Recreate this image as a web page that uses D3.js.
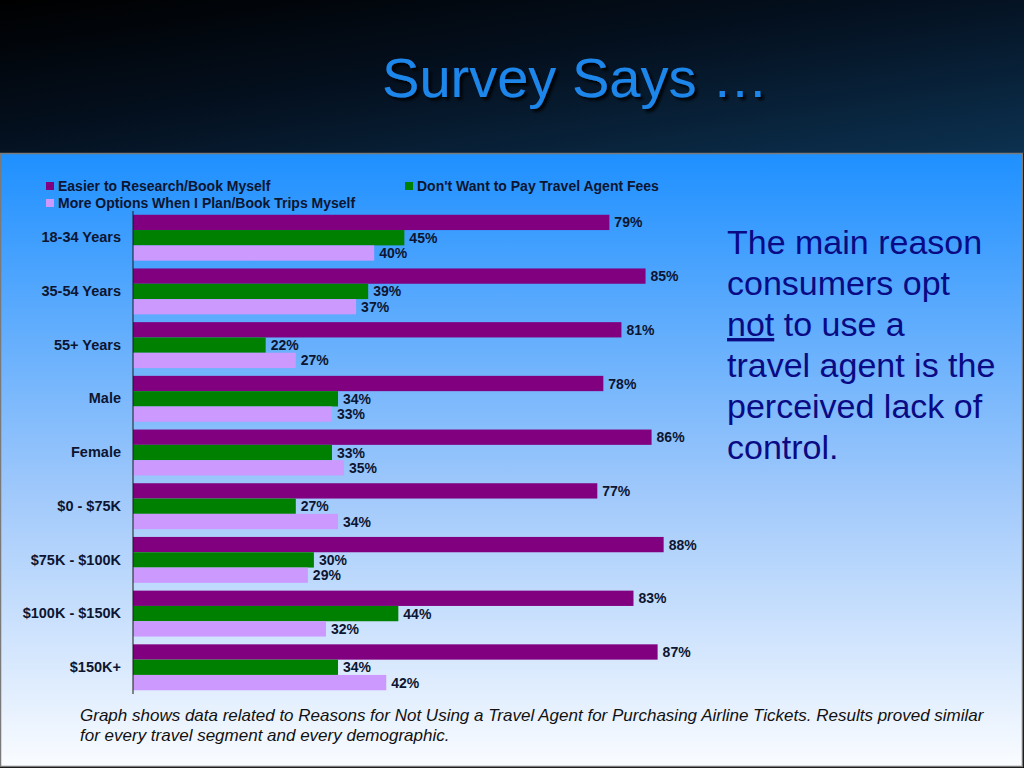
<!DOCTYPE html>
<html>
<head>
<meta charset="utf-8">
<script src="https://cdn.jsdelivr.net/npm/d3@7"></script>
<style>
  html, body { margin: 0; padding: 0; background: #000; }
  svg { display: block; font-family: "Liberation Sans", Arial, sans-serif; }
</style>
</head>
<body>
<div id="wrapper"></div>
<script>
// Data
const categories = ["18-34 Years", "35-54 Years", "55+ Years", "Male", "Female",
  "$0 - $75K", "$75K - $100K", "$100K - $150K", "$150K+"]
const seriesNames = ["Easier to Research/Book Myself", "Don't Want to Pay Travel Agent Fees",
  "More Options When I Plan/Book Trips Myself"]
const easierValues = [79, 85, 81, 78, 86, 77, 88, 83, 87]
const feesValues = [45, 39, 22, 34, 33, 27, 30, 44, 34]
const optionsValues = [40, 37, 27, 33, 35, 34, 29, 32, 42]
const seriesColors = ["#800080", "#008000", "#cc99ff"]

const seriesValues = [easierValues, feesValues, optionsValues]

const dimensions = {
  width: 1024,
  height: 768,
  headerHeight: 153,
  margin: { top: 211, left: 133, bottom: 74 },
}

const svg = d3.select("#wrapper")
  .append("svg")
    .attr("width", dimensions.width)
    .attr("height", dimensions.height)

// Backgrounds
const defs = svg.append("defs")
const headGrad = defs.append("linearGradient")
    .attr("id", "headGrad")
    .attr("x1", "0").attr("y1", "0").attr("x2", "1").attr("y2", "1")
headGrad.append("stop").attr("offset", "0%").attr("stop-color", "#000000")
headGrad.append("stop").attr("offset", "45%").attr("stop-color", "#04101f")
headGrad.append("stop").attr("offset", "100%").attr("stop-color", "#0c3150")

const panelGrad = defs.append("linearGradient")
    .attr("id", "panelGrad")
    .attr("x1", "0").attr("y1", "0").attr("x2", "0").attr("y2", "1")
panelGrad.append("stop").attr("offset", "0%").attr("stop-color", "#1e90ff")
panelGrad.append("stop").attr("offset", "55%").attr("stop-color", "#9fc8fb")
panelGrad.append("stop").attr("offset", "100%").attr("stop-color", "#fafcff")

const shadow = defs.append("filter").attr("id", "shadow")
shadow.append("feDropShadow")
    .attr("dx", 3).attr("dy", 3).attr("stdDeviation", 1.5)
    .attr("flood-color", "#000").attr("flood-opacity", 0.9)

svg.append("rect")
    .attr("width", dimensions.width)
    .attr("height", dimensions.headerHeight)
    .attr("fill", "url(#headGrad)")

svg.append("rect")
    .attr("x", 0.5).attr("y", dimensions.headerHeight + 0.5)
    .attr("width", dimensions.width - 2)
    .attr("height", dimensions.height - dimensions.headerHeight - 2)
    .attr("fill", "url(#panelGrad)")
    .attr("stroke", "#7a7a7a")
    .attr("stroke-width", 1.5)

svg.append("text")
    .attr("x", 575).attr("y", 97)
    .attr("text-anchor", "middle")
    .attr("fill", "#1f86ea")
    .attr("font-size", 56)
    .attr("filter", "url(#shadow)")
    .text("Survey Says …")

// Scales
const yScale = d3.scaleBand()
    .domain(categories)
    .range([dimensions.margin.top, dimensions.height - dimensions.margin.bottom])
    .paddingInner(0.145)
    .paddingOuter(0.07)

const subScale = d3.scaleBand()
    .domain(d3.range(seriesNames.length))
    .range([0, yScale.bandwidth()])

const xScale = d3.scaleLinear()
    .domain([0, 100])
    .range([dimensions.margin.left, dimensions.margin.left + 603])

// Bars
const groups = svg.append("g")
  .selectAll("g")
  .data(categories)
  .join("g")
    .attr("transform", d => `translate(0, ${yScale(d)})`)

groups.selectAll("rect")
  .data((d, i) => seriesValues.map((vals, s) => ({ s, v: vals[i] })))
  .join("rect")
    .attr("x", xScale(0))
    .attr("y", d => subScale(d.s))
    .attr("width", d => xScale(d.v) - xScale(0))
    .attr("height", subScale.bandwidth())
    .attr("fill", d => seriesColors[d.s])

groups.selectAll("text")
  .data((d, i) => seriesValues.map((vals, s) => ({ s, v: vals[i] })))
  .join("text")
    .attr("x", d => xScale(d.v) + 5)
    .attr("y", d => subScale(d.s) + subScale.bandwidth() / 2)
    .attr("dy", "0.36em")
    .attr("font-size", 14)
    .attr("font-weight", "bold")
    .attr("fill", "#0d1530")
    .text(d => d.v + "%")

// Axis
const yAxis = svg.append("g")
    .attr("transform", `translate(${xScale(0)}, 0)`)
    .call(d3.axisLeft(yScale).tickSize(0).tickPadding(12))
yAxis.select(".domain")
    .attr("stroke", "#1a1a1a")
    .attr("d", `M0,${dimensions.margin.top}V${dimensions.height - dimensions.margin.bottom}`)
yAxis.selectAll("text")
    .attr("font-size", 14.5)
    .attr("font-weight", "bold")
    .attr("font-family", "'Liberation Sans', Arial, sans-serif")
    .attr("fill", "#0d1530")

// Legend
const legendPos = [[46, 186], [405, 186], [46, 203]]
const legend = svg.append("g")
  .selectAll("g")
  .data(seriesNames)
  .join("g")
    .attr("transform", (d, i) => `translate(${legendPos[i][0]}, ${legendPos[i][1]})`)
legend.append("rect")
    .attr("x", 0).attr("y", -4)
    .attr("width", 8).attr("height", 8)
    .attr("fill", (d, i) => seriesColors[i])
legend.append("text")
    .attr("x", 12)
    .attr("dy", "0.36em")
    .attr("font-size", 14)
    .attr("font-weight", "bold")
    .attr("fill", "#0d1530")
    .text(d => d)

// Side note
const noteLines = [
  [{ t: "The main reason" }],
  [{ t: "consumers opt" }],
  [{ t: "not", u: true }, { t: " to use a" }],
  [{ t: "travel agent is the" }],
  [{ t: "perceived lack of" }],
  [{ t: "control." }],
]
const note = svg.append("text")
    .attr("x", 727).attr("y", 254)
    .attr("font-size", 34)
    .attr("fill", "#0a0a84")
noteLines.forEach((line, i) => {
  line.forEach((part, j) => {
    const ts = note.append("tspan").text(part.t).style("white-space", "pre")
    if (j === 0) ts.attr("x", 727).attr("y", 254 + i * 41)
    if (part.u) ts.attr("text-decoration", "underline")
  })
})

// Footer
const footerLines = [
  "Graph shows data related to Reasons for Not Using a Travel Agent for Purchasing Airline Tickets. Results proved similar",
  "for every travel segment and every demographic.",
]
svg.append("g")
  .selectAll("text")
  .data(footerLines)
  .join("text")
    .attr("x", 80)
    .attr("y", (d, i) => 721 + i * 20)
    .attr("font-size", 17)
    .attr("font-style", "italic")
    .attr("fill", "#111")
    .text(d => d)
</script>
</body>
</html>
